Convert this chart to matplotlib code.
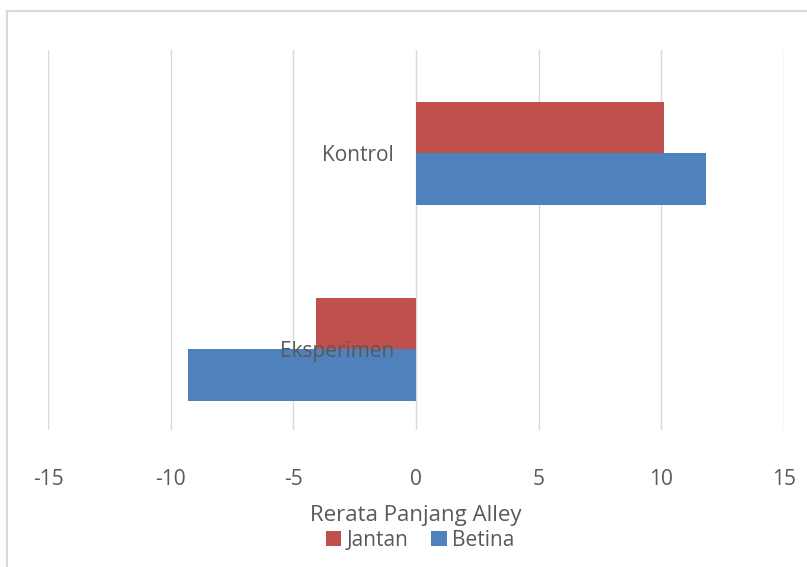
import numpy as np
import matplotlib.pyplot as plt
from matplotlib.patches import Rectangle

plt.rcParams['font.family'] = ['Open Sans', 'DejaVu Sans']

categories = ['Eksperimen', 'Kontrol']
jantan = [-4.08, 10.11]
betina = [-9.29, 11.82]
xticks = [-15, -10, -5, 0, 5, 10, 15]

red = '#C0504D'
blue = '#4F81BD'
grey_txt = '#595959'
grid_c = '#D9D9D9'

fig = plt.figure(figsize=(8.07, 5.67), dpi=100)
fig.patches.append(Rectangle((7/807, -0.1), 1.2, 1 - 11/567 + 0.1, transform=fig.transFigure,
                             fill=False, ec=grid_c, lw=1.5))

ax = fig.add_axes([48/807, 1 - 430/567, 736/807, 380/567])
y = np.arange(len(categories))
h = 0.263
ax.barh(y + h/2, jantan, height=h, color=red, label='Jantan', zorder=3)
ax.barh(y - h/2, betina, height=h, color=blue, label='Betina', zorder=3)

ax.set_xlim(-15, 15)
ax.set_ylim(-0.413, 1.526)
ax.set_xticks(xticks)
ax.set_xticklabels([str(v) for v in xticks], fontsize=15, color=grey_txt)
ax.tick_params(axis='x', length=0, pad=28)
ax.set_yticks([])
ax.grid(axis='x', color=grid_c, lw=1, zorder=0)
for s in ax.spines.values():
    s.set_visible(False)

# category labels sit next to the zero line
for yi, name in zip(y, categories):
    ax.annotate(name, xy=(0, yi), xytext=(-22, -2), textcoords='offset pixels',
                ha='right', va='center', fontsize=15, color=grey_txt, zorder=4)

fig.text(416/807, 1 - 516/567, 'Rerata Panjang Alley', ha='center', va='center',
         fontsize=16, color=grey_txt)
fig.legend(loc='center', bbox_to_anchor=(420/807, 1 - 540/567), ncol=2, frameon=False,
           fontsize=15, handlelength=0.75, handleheight=0.75, handletextpad=0.25,
           columnspacing=1.1, labelcolor=grey_txt, borderpad=0)

fig.savefig('out.png', dpi=100)
